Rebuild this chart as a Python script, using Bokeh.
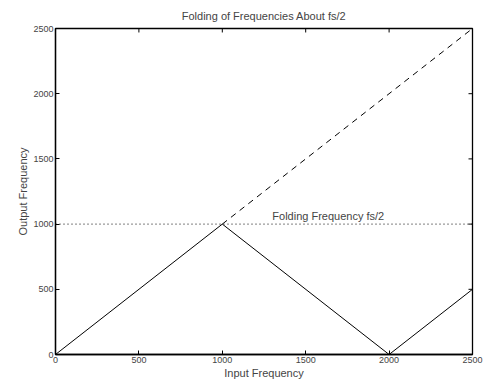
from bokeh.plotting import figure
from bokeh.models import Range1d, FixedTicker, Title, Label
from bokeh.embed import file_html
from bokeh.resources import INLINE

# data
fold_x = [0, 1000, 2000, 2500]
fold_y = [0, 1000, 0, 500]
ident_x = [1000, 2500]
ident_y = [1000, 2500]
nyq_x = [0, 2500]
nyq_y = [1000, 1000]
ticks = [0, 500, 1000, 1500, 2000, 2500]
title_text = "Folding of Frequencies About fs/2"
label_text = "Folding Frequency fs/2"
label_pos = (1300, 1000)

FONT = "Liberation Sans"
W, H = 484, 381
BL, BR, BT, BB = 55, 12, 28, 25
XMIN, XMAX, YMIN, YMAX = 0, 2500, 0, 2500

p = figure(width=W, height=H, output_backend="svg", toolbar_location=None,
           x_range=Range1d(XMIN, XMAX), y_range=Range1d(YMIN, YMAX),
           x_axis_label="Input Frequency", y_axis_label="Output Frequency",
           min_border_left=BL, min_border_right=BR, min_border_top=BT, min_border_bottom=BB)
p.background_fill_color = "white"
p.border_fill_color = "white"
p.grid.visible = False
p.outline_line_color = "black"
p.outline_line_width = 1.3

t = Title(text=title_text, align="center",
          text_font=FONT, text_font_size="11px", text_font_style="normal",
          standoff=14, text_line_height=0.8)
p.add_layout(t, "above")

for ax in [p.xaxis[0], p.yaxis[0]]:
    ax.ticker = FixedTicker(ticks=ticks)
    ax.major_tick_in = 4
    ax.major_tick_out = 0
    ax.minor_tick_line_color = None
    ax.major_label_text_font = FONT
    ax.major_label_text_font_size = "9px"
    ax.axis_label_text_font = FONT
    ax.axis_label_text_font_size = "11px"
    ax.axis_label_text_font_style = "normal"
    ax.axis_line_color = "black"
    ax.axis_line_width = 1.3
    ax.major_label_standoff = 2
    ax.axis_label_standoff = 1

# inward ticks on top and right edges (MATLAB box style)
frame_w = W - BL - BR
frame_h = H - BT - BB
tick_px = 4
dx = tick_px * (XMAX - XMIN) / frame_w
dy = tick_px * (YMAX - YMIN) / frame_h
p.segment(x0=ticks, y0=[YMAX] * len(ticks), x1=ticks, y1=[YMAX - dy] * len(ticks),
          line_color="black", line_width=1)
p.segment(x0=[XMAX] * len(ticks), y0=ticks, x1=[XMAX - dx] * len(ticks), y1=ticks,
          line_color="black", line_width=1)

p.line(nyq_x, nyq_y, line_color="black", line_dash="1 3", line_width=1)
p.line(ident_x, ident_y, line_color="black", line_dash="6 5", line_width=1)
p.line(fold_x, fold_y, line_color="black", line_width=1)

lab = Label(x=label_pos[0], y=label_pos[1], text=label_text, text_font=FONT,
            text_font_size="11px", y_offset=2, text_baseline="bottom")
p.add_layout(lab)

open("out.html", "w").write(file_html(p, INLINE))
